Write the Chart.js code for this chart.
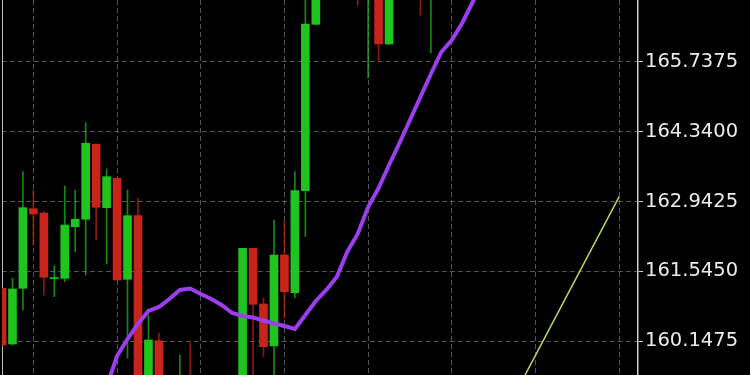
<!DOCTYPE html>
<html>
<head>
<meta charset="utf-8">
<script src="https://cdn.jsdelivr.net/npm/chart.js@4.4.1/dist/chart.umd.min.js"></script>
<style>
  html, body { margin: 0; padding: 0; background: #000; }
  canvas { display: block; }
</style>
</head>
<body>
<canvas id="chart" width="750" height="375"></canvas>
<script>
// candle index (one per bar), null = candle is outside the visible range
const candleIdx = [0, 1, 2, 3, 4, 5, 6, 7, 8, 9, 10, 11, 12, 13, 14, 15, 16, 17, 18, 19, 20,
  21, 22, 23, 24, 25, 26, 27, 28, 29, 30, 31, 32, 33, 34, 35, 36, 37, 38, 39, 40, 41]
const opens = [161.205, 160.090, 161.205, 162.799, 162.713, 161.400, 161.405, 162.438, 162.587, 164.088, 162.819,
  163.407, 161.385, 162.659, 159.100, 160.156, null, 159.000, 159.300, null, null,
  null, null, 158.900, 162.006, 160.891, 160.050, 161.872, 161.117, 163.159, 166.491,
  null, null, null, 167.600, 167.100, 167.500, 166.096, null, null, 167.800, 167.300]
const highs = [161.220, 161.411, 163.540, 163.173, 162.740, 161.658, 163.253, 163.173, 164.521, 164.100, 163.588,
  163.420, 163.173, 163.013, 160.671, 160.310, null, 159.870, 160.110, null, null,
  null, null, 162.006, 162.010, 161.011, 162.573, 162.553, 163.540, 167.200, 167.500,
  null, null, null, 167.800, 167.800, 167.700, 167.500, null, null, 168.000, 168.000]
const lows = [160.050, 160.070, 160.771, 162.072, 161.071, 161.037, 161.337, 161.938, 161.471, 162.172, 161.692,
  161.360, 159.804, 159.000, 159.000, 159.000, null, 158.800, 158.800, null, null,
  null, null, 158.800, 159.000, 159.836, 159.200, 160.611, 161.011, 162.238, 166.480,
  null, null, null, 166.877, 165.415, 165.742, 166.090, null, null, 166.677, 165.916]
const closes = [160.070, 161.191, 162.819, 162.693, 161.426, 161.420, 162.472, 162.587, 164.108, 162.827, 163.440,
  161.371, 162.659, 159.200, 160.170, 159.200, null, 159.300, 159.000, null, null,
  null, null, 162.006, 160.885, 160.036, 161.872, 161.137, 163.159, 166.497, 167.400,
  null, null, null, 167.200, 167.600, 166.096, 167.300, null, null, 167.200, 167.900]

// moving average, starts at candle 10
const maIdx = [10, 11, 12, 13, 14, 15, 16, 17, 18, 19, 20, 21, 22, 23, 24, 25, 26, 27, 28,
  29, 30, 31, 32, 33, 34, 35, 36, 37, 38, 39, 40, 41, 42, 43, 44, 45, 46]
const maValues = [159.229, 159.850, 160.190, 160.491, 160.751, 160.831, 160.991, 161.171, 161.201, 161.091,
  160.991, 160.871, 160.711, 160.651, 160.621, 160.561, 160.501, 160.450, 160.390,
  160.671, 160.951, 161.171, 161.431, 161.932, 162.292, 162.833, 163.213, 163.674, 164.114,
  164.575, 165.035, 165.496, 165.936, 166.176, 166.517, 166.937, 167.337]

// thin yellow line at the right
const yellowIdx = [49, 59]
const yellowValues = [159.070, 163.040]

const yTicks = [160.1475, 161.545, 162.9425, 164.34, 165.7375]
const xGridIdx = [3, 11, 19, 27, 35, 43, 51, 59]

const green = '#1fc41f'
const red = '#c9241b'

const bodies = []
const wicks = []
const bodyColors = []
candleIdx.forEach((i, k) => {
  if (opens[k] == null) return
  bodies.push({ x: i, y: [opens[k], closes[k]] })
  wicks.push({ x: i, y: [lows[k], highs[k]] })
  bodyColors.push(closes[k] >= opens[k] ? green : red)
})

const gridColor = 'rgba(140,140,140,0.6)'
const noPad = s => { s.paddingTop = 0; s.paddingBottom = 0; s.paddingLeft = 0; s.paddingRight = 0 }

new Chart(document.getElementById('chart'), {
  data: {
    datasets: [
      {
        type: 'bar',
        data: wicks,
        backgroundColor: bodyColors.map(c => c + 'b0'),
        barThickness: 1,
        grouped: false,
        order: 4,
      },
      {
        type: 'bar',
        data: bodies,
        backgroundColor: bodyColors,
        barThickness: 8,
        minBarLength: 1,
        grouped: false,
        order: 3,
      },
      {
        type: 'line',
        data: maIdx.map((x, k) => ({ x, y: maValues[k] })),
        borderColor: '#9a3ef0',
        borderWidth: 4,
        pointRadius: 0,
        tension: 0,
        order: 1,
      },
      {
        type: 'line',
        data: yellowIdx.map((x, k) => ({ x, y: yellowValues[k] })),
        borderColor: '#c9cf62',
        borderWidth: 1.5,
        pointRadius: 0,
        order: 2,
      },
    ],
  },
  options: {
    responsive: false,
    animation: false,
    devicePixelRatio: 1,
    layout: { padding: 0 },
    plugins: { legend: { display: false }, tooltip: { enabled: false } },
    scales: {
      x: {
        type: 'linear',
        offset: false,
        min: 0,
        max: 60.8,
        position: 'bottom',
        afterBuildTicks: s => { s.ticks = xGridIdx.map(v => ({ value: v })) },
        afterFit: s => { s.height = 0; noPad(s) },
        ticks: { display: false },
        grid: { color: gridColor, drawTicks: false, offset: false },
        border: { display: false, dash: [5, 3] },
      },
      yLeft: {
        position: 'left',
        min: 159.469,
        max: 166.977,
        afterFit: s => { s.width = 2; noPad(s) },
        ticks: { display: false },
        grid: { drawOnChartArea: false, drawTicks: false },
        border: { color: '#bdbdbd', width: 1 },
      },
      y: {
        position: 'right',
        min: 159.469,
        max: 166.977,
        afterBuildTicks: s => { s.ticks = yTicks.map(v => ({ value: v })) },
        afterFit: s => { s.width = 112; noPad(s) },
        ticks: {
          color: '#ececec',
          padding: 2,
          font: { family: 'DejaVu Sans', size: 19.5 },
          callback: v => Number(v).toFixed(4),
        },
        grid: { color: gridColor, tickColor: '#cfcfcf', tickLength: 5 },
        border: { color: '#cfcfcf', width: 1.5, dash: [5, 3] },
      },
    },
  },
})
</script>
</body>
</html>
